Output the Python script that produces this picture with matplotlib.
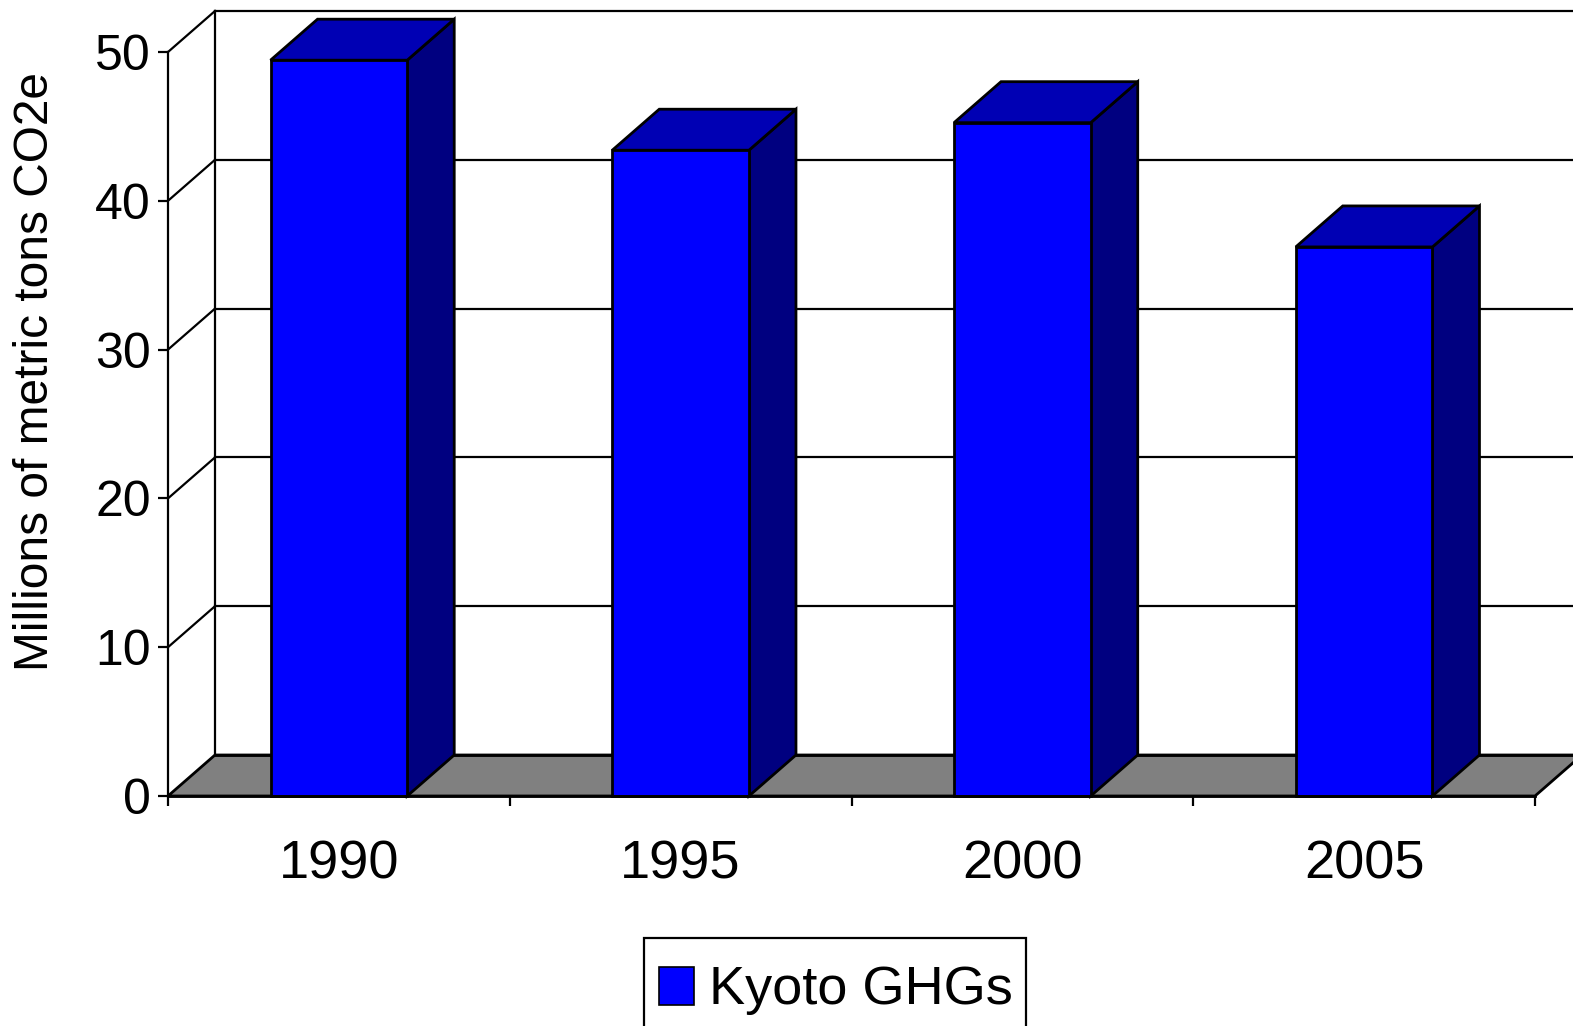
import matplotlib
matplotlib.use("Agg")
import matplotlib.pyplot as plt
from matplotlib.patches import Polygon, Rectangle

plt.rcParams['font.family'] = ['Liberation Sans', 'DejaVu Sans']

# ---- data ----
years = ["1990", "1995", "2000", "2005"]
kyoto_ghgs = [49.45, 43.4, 45.25, 36.9]
y_ticks = [0, 10, 20, 30, 40, 50]
y_label = "Millions of metric tons CO2e"
legend_label = "Kyoto GHGs"

# ---- style ----
FRONT = "#0000FF"
TOP = "#0000B4"
SIDE = "#000080"
FLOOR = "#808080"
LW = 2.0
GLW = 1.6

W, H = 1573, 1026
fig = plt.figure(figsize=(W / 100, H / 100), dpi=100)


def fx(px):
    return px / W


def fy(py):
    return 1 - py / H


ax = fig.add_axes([fx(168), fy(796), fx(1535) - fx(168), fy(52) - fy(796)])
n = len(years)
ax.set_xlim(0, n)
ax.set_ylim(0, 50)

# depth offsets (in data units)
dx = 47 / ((1535 - 168) / n)
dy = 41 / ((796 - 52) / 50)

# back wall
ax.add_patch(Polygon([(dx, dy), (n + dx + 0.3, dy), (n + dx + 0.3, 50 + dy), (dx, 50 + dy)],
                     closed=True, facecolor="white", edgecolor="none", zorder=1, clip_on=False))
ax.plot([dx, dx], [dy, 50 + dy], color="black", lw=GLW, zorder=2, clip_on=False)
for v in y_ticks[1:]:
    ax.plot([dx, n + dx + 0.3], [v + dy, v + dy], color="black", lw=GLW, zorder=2, clip_on=False)
    ax.plot([0, dx], [v, v + dy], color="black", lw=GLW, zorder=2, clip_on=False)

# floor
ax.add_patch(Polygon([(0, 0), (n, 0), (n + dx, dy), (dx, dy)], closed=True,
                     facecolor=FLOOR, edgecolor="black", lw=LW, zorder=3, clip_on=False))
ax.plot([dx, n + dx + 0.3], [dy, dy], color="black", lw=LW, zorder=3, clip_on=False)

# bars
bw = 0.4
for i, v in enumerate(kyoto_ghgs):
    x0 = i + 0.5 - bw / 2
    x1 = i + 0.5 + bw / 2
    ax.add_patch(Polygon([(x1, 0), (x1 + dx, dy), (x1 + dx, v + dy), (x1, v)], closed=True,
                         facecolor=SIDE, edgecolor="black", lw=LW, zorder=4, clip_on=False))
    ax.add_patch(Polygon([(x0, v), (x1, v), (x1 + dx, v + dy), (x0 + dx, v + dy)], closed=True,
                         facecolor=TOP, edgecolor="black", lw=LW, zorder=4, clip_on=False))
    ax.add_patch(Rectangle((x0, 0), bw, v, facecolor=FRONT, edgecolor="black", lw=LW,
                           zorder=5, clip_on=False))

# axes / ticks
for s in ["top", "right"]:
    ax.spines[s].set_visible(False)
ax.spines["left"].set_linewidth(GLW)
ax.spines["bottom"].set_linewidth(LW)
ax.spines["left"].set_zorder(6)
ax.spines["bottom"].set_zorder(6)
ax.set_facecolor("none")

ax.set_yticks(y_ticks)
ax.set_yticklabels([str(t) for t in y_ticks])
ax.tick_params(axis="y", length=7.5, width=GLW, pad=5, labelsize=36)

ax.set_xticks(range(n + 1))
ax.set_xticklabels([""] * (n + 1))
ax.set_xticks([i + 0.5 for i in range(n)], years, minor=True)
ax.tick_params(axis="x", which="major", length=7.5, width=GLW)
ax.tick_params(axis="x", which="minor", length=0, pad=31, labelsize=39)

fig.text(fx(36), fy(371), y_label, rotation=90, ha="center", va="center", fontsize=34.5)

# legend (manual, partially clipped by the figure edge)
fig.patches.append(Rectangle((fx(644), fy(1060)), fx(1026) - fx(644), fy(938) - fy(1060),
                             transform=fig.transFigure, facecolor="white", edgecolor="black",
                             lw=GLW))
fig.patches.append(Rectangle((fx(659), fy(1005)), fx(694) - fx(659), fy(967) - fy(1005),
                             transform=fig.transFigure, facecolor=FRONT, edgecolor="black",
                             lw=1.2))
fig.text(fx(709), fy(1004), legend_label, ha="left", va="baseline", fontsize=39)

fig.savefig("out.png", dpi=100)
